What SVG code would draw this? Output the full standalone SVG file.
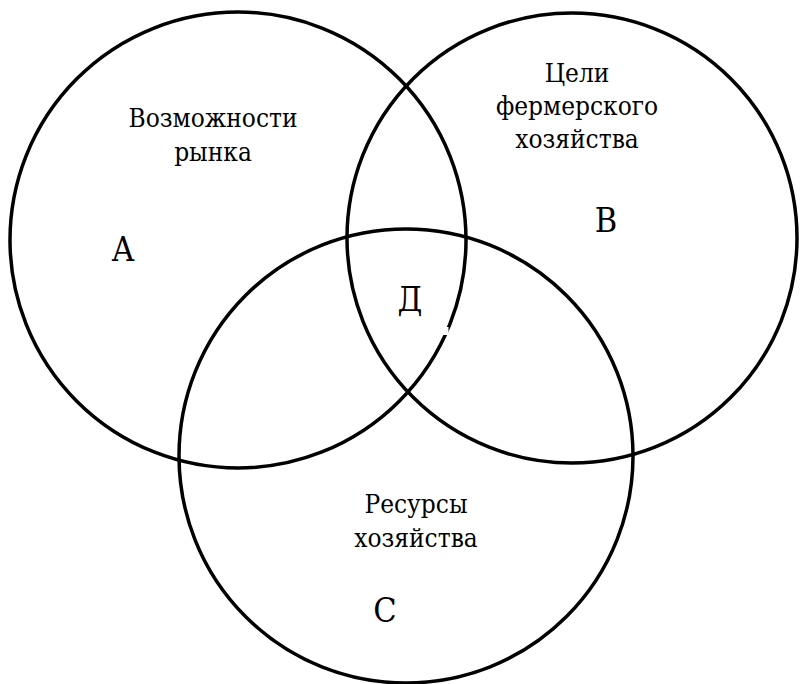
<svg xmlns="http://www.w3.org/2000/svg" width="800" height="684" viewBox="0 0 800 684">
<style>
.c{fill:none;stroke:#000;stroke-width:3.5}
.t{font-family:"DejaVu Serif Condensed","DejaVu Serif",serif;font-size:26px;fill:#000;text-anchor:middle}
.l{font-family:"DejaVu Serif Condensed","DejaVu Serif",serif;font-size:34px;fill:#000;text-anchor:middle}
</style>
<rect width="800" height="684" fill="#fff"/>
<g id="connectors"></g>
<g id="circleA"><circle class="c" cx="238" cy="240" r="228"/></g>
<g id="circleB"><circle class="c" cx="572" cy="238" r="225"/></g>
<g id="circleC"><circle class="c" cx="406" cy="456" r="227"/></g>
<rect x="440" y="327" width="8.5" height="8" fill="#fff"/>
<g id="labelA">
<text class="t" x="213" y="127">Возможности</text>
<text class="t" x="213" y="161">рынка</text>
<text class="l" x="123" y="261">А</text>
</g>
<g id="labelB">
<text class="t" x="577" y="82">Цели</text>
<text class="t" x="577" y="115">фермерского</text>
<text class="t" x="577" y="148">хозяйства</text>
<text class="l" x="606" y="232">В</text>
</g>
<g id="labelC">
<text class="t" x="416" y="513">Ресурсы</text>
<text class="t" x="416" y="547">хозяйства</text>
<text class="l" x="385" y="622">С</text>
</g>
<g id="labelD"><text class="l" x="410" y="311">Д</text></g>
</svg>
